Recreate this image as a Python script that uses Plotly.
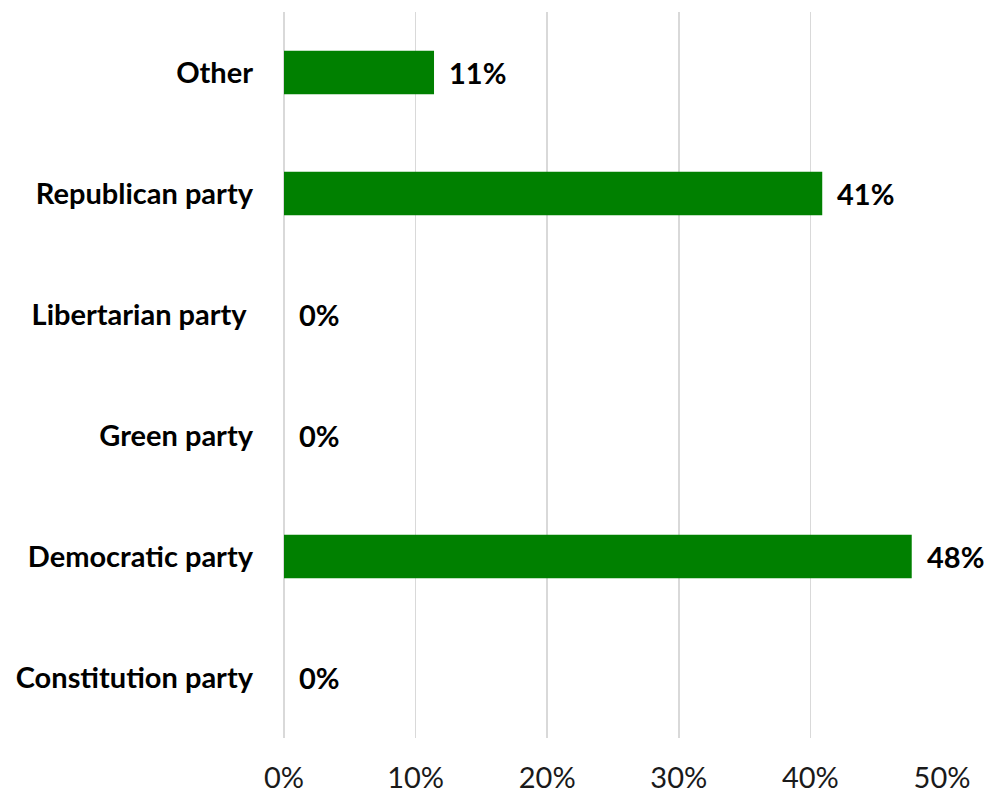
import plotly.graph_objects as go

categories = ["Constitution party", "Democratic party", "Green party",
              "Libertarian party", "Republican party", "Other"]
category_tick_labels = ["Constitution party", "Democratic party", "Green party",
                        "Libertarian party\u00a0", "Republican party", "Other"]
values = [0.0, 0.477, 0.0, 0.0, 0.409, 0.114]
labels = ["0%", "48%", "0%", "0%", "41%", "11%"]
x_ticks = [0, 0.1, 0.2, 0.3, 0.4, 0.5]
x_tick_labels = ["0%", "10%", "20%", "30%", "40%", "50%"]

FONT = "Lato, Carlito, Calibri, sans-serif"
FS = 29

fig = go.Figure()
fig.add_trace(go.Bar(
    y=categories, x=values, orientation="h",
    marker=dict(color="#008000", line=dict(width=0)),
    width=0.36, hoverinfo="skip",
))

for c, v, t in zip(categories, values, labels):
    fig.add_annotation(x=v, y=c, text="<b>%s</b>" % t, showarrow=False,
                       xanchor="left", yanchor="middle", xshift=13,
                       font=dict(family=FONT, size=FS, color="#000000"))

fig.update_layout(
    width=988, height=795,
    margin=dict(l=284, r=46, t=12, b=57, autoexpand=False),
    paper_bgcolor="white", plot_bgcolor="white",
    showlegend=False,
    font=dict(family=FONT, size=FS, color="#000000"),
    xaxis=dict(range=[0, 0.5], tickvals=x_ticks, ticktext=x_tick_labels,
               showgrid=True, gridcolor="#d9d9d9", gridwidth=1.5,
               zeroline=True, zerolinecolor="#d9d9d9", zerolinewidth=2,
               showline=False, ticks="",
               ticklabelstandoff=20, automargin=False,
               tickfont=dict(family=FONT, size=FS, color="#1a1a1a")),
    yaxis=dict(categoryorder="array", categoryarray=categories,
               tickvals=categories, ticktext=category_tick_labels,
               showgrid=False, zeroline=False, showline=False, ticks="",
               ticklabelstandoff=30, automargin=False,
               tickfont=dict(family=FONT, size=FS, color="#000000", weight="bold")),
)

fig.write_html("out.html", config={"displayModeBar": False, "staticPlot": True})
with open("out.html", "r", encoding="utf-8") as f:
    html = f.read()
html = html.replace("<head>", "<head><style>html,body{margin:0;padding:0;overflow:hidden;}</style>", 1)
with open("out.html", "w", encoding="utf-8") as f:
    f.write(html)
